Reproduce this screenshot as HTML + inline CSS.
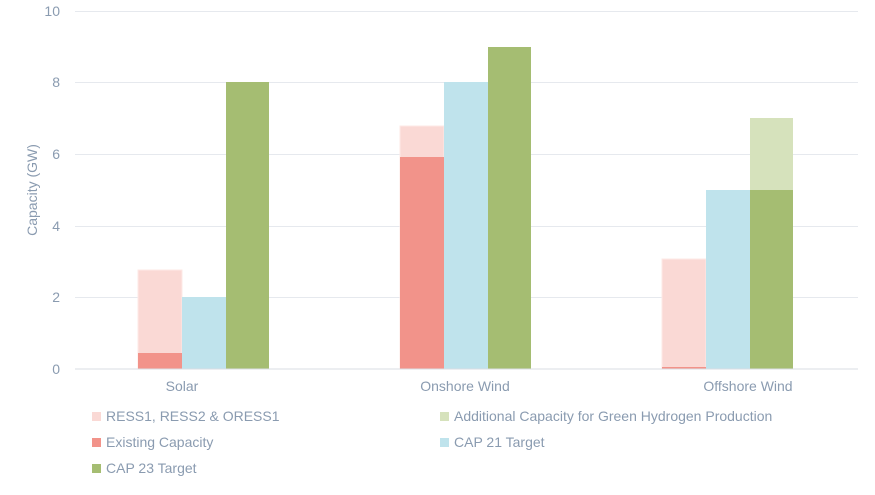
<!DOCTYPE html><html><head><style>body{margin:0;background:#fff}svg{font-family:"Liberation Sans",sans-serif}</style></head><body>
<svg width="875" height="490" xmlns="http://www.w3.org/2000/svg">
<g stroke="#e6e9ee" stroke-width="1">
<line x1="75" x2="858" y1="11.5" y2="11.5"/><line x1="75" x2="858" y1="82.5" y2="82.5"/><line x1="75" x2="858" y1="154.5" y2="154.5"/><line x1="75" x2="858" y1="226.5" y2="226.5"/><line x1="75" x2="858" y1="297.5" y2="297.5"/></g>
<g fill="#8a9bb0" font-size="14" text-anchor="end">
<text x="60" y="16">10</text><text x="60" y="87">8</text><text x="60" y="159">6</text><text x="60" y="231">4</text><text x="60" y="302">2</text><text x="60" y="374">0</text></g>
<text transform="translate(37,190) rotate(-90)" fill="#8a9bb0" font-size="14" text-anchor="middle">Capacity (GW)</text>
<!-- Solar -->
<rect x="138" y="270" width="44" height="99" fill="#fad9d5" stroke="#fde9e6"/>
<rect x="138" y="353" width="44" height="16" fill="#f2938a"/>
<rect x="182" y="297" width="44" height="72" fill="#bfe3ec"/>
<rect x="226" y="82" width="43" height="287" fill="#a5bd72"/>
<!-- Onshore -->
<rect x="400" y="126" width="44" height="243" fill="#fad9d5" stroke="#fde9e6"/>
<rect x="400" y="157" width="44" height="212" fill="#f2938a"/>
<rect x="444" y="82" width="44" height="287" fill="#bfe3ec"/>
<rect x="488" y="47" width="43" height="322" fill="#a5bd72"/>
<!-- Offshore -->
<rect x="662" y="259" width="44" height="110" fill="#fad9d5" stroke="#fde9e6"/>
<rect x="662" y="367" width="44" height="2" fill="#f2938a"/>
<rect x="706" y="190" width="44" height="179" fill="#bfe3ec"/>
<rect x="750" y="118" width="43" height="72" fill="#d6e2bc"/>
<rect x="750" y="190" width="43" height="179" fill="#a5bd72"/>
<line x1="75" x2="858" y1="369" y2="369" stroke="#d9dde3"/>
<g fill="#8a9bb0" font-size="14" text-anchor="middle">
<text x="182" y="391">Solar</text><text x="465" y="391">Onshore Wind</text><text x="748" y="391">Offshore Wind</text></g>
<g font-size="14" fill="#8a9bb0">
<rect x="92" y="412" width="9" height="9" fill="#fad9d5"/><text x="106" y="421">RESS1, RESS2 &amp; ORESS1</text>
<rect x="440" y="412" width="9" height="9" fill="#d6e2bc"/><text x="454" y="421">Additional Capacity for Green Hydrogen Production</text>
<rect x="92" y="438" width="9" height="9" fill="#f2938a"/><text x="106" y="447">Existing Capacity</text>
<rect x="440" y="438" width="9" height="9" fill="#bfe3ec"/><text x="454" y="447">CAP 21 Target</text>
<rect x="92" y="464" width="9" height="9" fill="#a5bd72"/><text x="106" y="473">CAP 23 Target</text>
</g>
</svg></body></html>
